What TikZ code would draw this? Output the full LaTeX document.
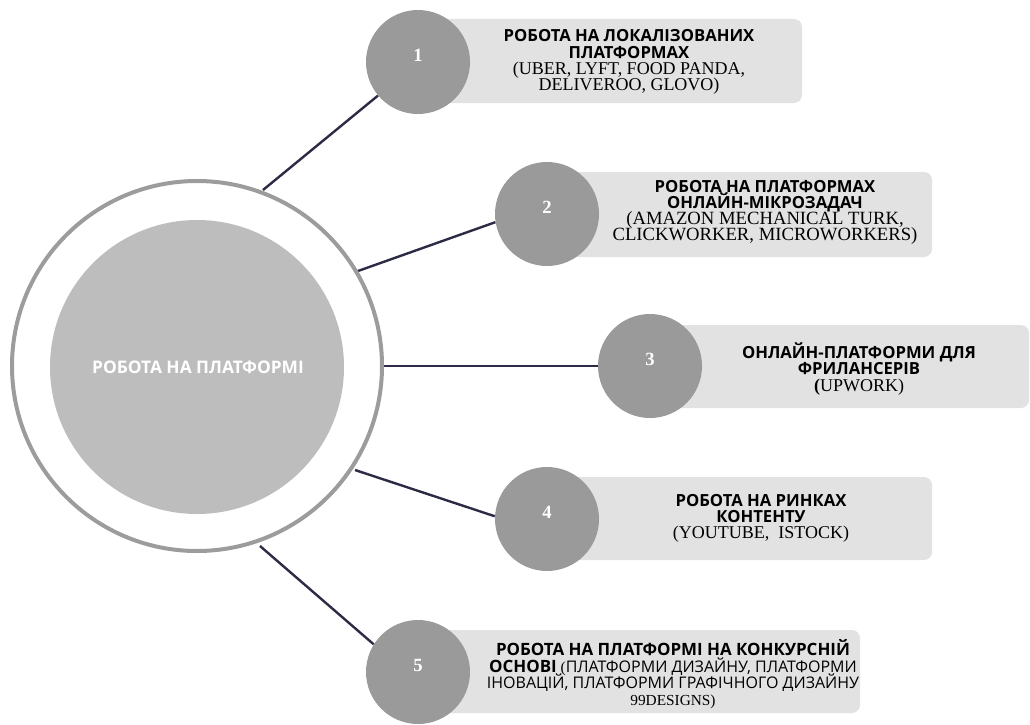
\documentclass[tikz,border=0pt]{standalone}
\usepackage{fontspec}
\setmainfont{Liberation Serif}
\newfontfamily\hdfont{Open Sans}
\usetikzlibrary{fit}
\definecolor{ringgray}{HTML}{9C9C9C}
\definecolor{discgray}{HTML}{BEBDBD}
\definecolor{smallgray}{HTML}{9A9A9A}
\definecolor{boxgray}{HTML}{E2E2E2}
\definecolor{linenavy}{HTML}{2C2B45}
\newcommand{\hb}{\hdfont\bfseries\fontsize{12.5}{12.2}\selectfont}
\newcommand{\hbs}{\hdfont\bfseries\fontsize{12.7}{12.5}\selectfont}
\newcommand{\hr}{\hdfont\fontsize{12}{12.5}\selectfont}
\newcommand{\tightlines}{\lineskiplimit-20pt\relax}
\begin{document}
\begin{tikzpicture}[x=0.75pt,y=-0.75pt,
  conn/.style={draw=linenavy,line width=1.8pt},
  ring/.style={circle,draw=ringgray,line width=3pt,fill=white,minimum size=277.5pt,inner sep=0pt},
  disc/.style={circle,fill=discgray,minimum size=220.5pt,inner sep=0pt},
  numcirc/.style={circle,fill=smallgray,minimum size=78pt,inner sep=0pt},
  numtxt/.style={text=white,font=\fontsize{14}{16}\selectfont\bfseries},
  boxbg/.style={fill=boxgray,rounded corners=6pt,inner sep=0pt},
  txt/.style={align=center,font=\fontsize{13.5}{12.1}\selectfont\tightlines,inner sep=0pt},
  txtbig/.style={align=center,font=\fontsize{14}{12}\selectfont\tightlines,inner sep=0pt},
  txtsmall/.style={align=center,font=\fontsize{11.5}{12.5}\selectfont\tightlines,inner sep=0pt},
]
\useasboundingbox (0,0) rectangle (1030,724);
% anchors on the ring
\coordinate (r1) at (263,190);
\coordinate (r2) at (358,271);
\coordinate (r3) at (383,366);
\coordinate (r4) at (355,470);
\coordinate (r5) at (260,546);
% boxes
\node[boxbg,fit={(418,19) (802,103)}] (b1) {};
\node[boxbg,fit={(547,172) (932,257)}] (b2) {};
\node[boxbg,fit={(650,325) (1029,408)}] (b3) {};
\node[boxbg,fit={(547,477) (932,560)}] (b4) {};
\node[boxbg,fit={(418,630) (860,713)}] (b5) {};
% small circles
\node[numcirc] (c1) at (418,62) {};
\node[numcirc] (c2) at (547,214) {};
\node[numcirc] (c3) at (650,366) {};
\node[numcirc] (c4) at (547,519) {};
\node[numcirc] (c5) at (418,672) {};
% connectors
\draw[conn] (r1) -- (c1.220);
\draw[conn] (r2) -- (c2.189);
\draw[conn] (r3) -- (c3.west);
\draw[conn] (r4) -- (c4.177);
\draw[conn] (r5) -- (c5.148);
% central circle
\node[ring] (ring) at (197,366) {};
\node[disc] (core) at (197,367) {};
\node[text=white,font=\hdfont\bfseries\fontsize{13}{14}\selectfont] (main) at (198,367) {РОБОТА НА ПЛАТФОРМІ};
% numbers
\node[numtxt] (n1) at ([yshift=5pt]c1.center) {1};
\node[numtxt] (n2) at ([yshift=5pt]c2.center) {2};
\node[numtxt] (n3) at ([yshift=5pt]c3.center) {3};
\node[numtxt] (n4) at ([yshift=5pt]c4.center) {4};
\node[numtxt] (n5) at ([yshift=5pt]c5.center) {5};
% texts
\node[txt] (t1) at (629,62) {{\hb РОБОТА НА ЛОКАЛІЗОВАНИХ}\\{\hb ПЛАТФОРМАХ}\\(UBER, LYFT, FOOD PANDA,\\DELIVEROO, GLOVO)};
\node[txtbig] (t2) at (765,212) {{\hb РОБОТА НА ПЛАТФОРМАХ}\\{\hb ОНЛАЙН-МІКРОЗАДАЧ}\\(AMAZON MECHANICAL TURK,\\CLICKWORKER, MICROWORKERS)};
\node[txt] (t3) at (859,369) {{\hb ОНЛАЙН-ПЛАТФОРМИ ДЛЯ}\\{\hb ФРИЛАНСЕРІВ}\\\textbf{(}UPWORK)};
\node[txt] (t4) at (761,518) {{\hb РОБОТА НА РИНКАХ}\\{\hb КОНТЕНТУ}\\(YOUTUBE,\ \ ISTOCK)};
\node[txtsmall] (t5) at (673,674) {{\hbs РОБОТА НА ПЛАТФОРМІ НА КОНКУРСНІЙ}\\{\hbs ОСНОВІ} ({\hr ПЛАТФОРМИ ДИЗАЙНУ, ПЛАТФОРМИ}\\{\hr ІНОВАЦІЙ, ПЛАТФОРМИ ГРАФІЧНОГО ДИЗАЙНУ}\\99DESIGNS)};
\end{tikzpicture}
\end{document}
